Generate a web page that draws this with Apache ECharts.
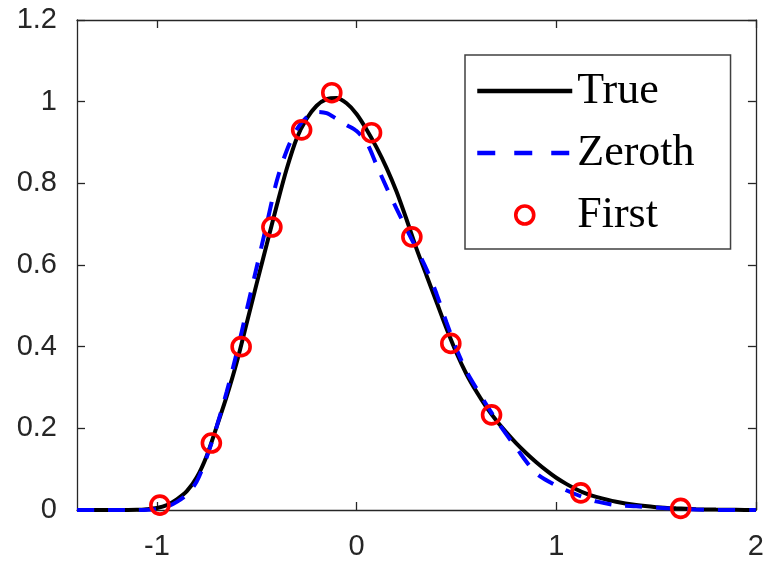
<!DOCTYPE html>
<html>
<head>
<meta charset="utf-8">
<script src="https://cdn.jsdelivr.net/npm/echarts@6/dist/echarts.min.js"></script>
<style>
  html, body { margin: 0; padding: 0; background: #fff; }
  #chart { width: 767px; height: 564px; }
</style>
</head>
<body>
<div id="chart"></div>
<script>
// Exact density ("True")
var trueX = [-1.4, -1.3, -1.2, -1.1, -1.05, -1.0, -0.95, -0.9, -0.85, -0.8, -0.75, -0.7, -0.65, -0.6,
             -0.55, -0.5, -0.45, -0.4, -0.35, -0.3, -0.25, -0.2, -0.15, -0.1, -0.05, 0.0, 0.05,
             0.1, 0.15, 0.2, 0.25, 0.3, 0.35, 0.4, 0.45, 0.5, 0.55, 0.6, 0.65, 0.7, 0.75, 0.8, 0.85, 0.9,
             0.95, 1.0, 1.05, 1.1, 1.15, 1.2, 1.3, 1.4, 1.5, 1.6, 1.7, 1.8, 1.9, 2.0];
var trueY = [0, 0, 0, 0.0005, 0.002, 0.005, 0.012, 0.026, 0.046, 0.08, 0.133, 0.205, 0.279, 0.362,
             0.458, 0.555, 0.65, 0.745, 0.835, 0.91, 0.958, 0.99, 1.006, 1.009, 0.996, 0.97, 0.932,
             0.888, 0.838, 0.78, 0.712, 0.64, 0.575, 0.51, 0.445, 0.385, 0.333, 0.29, 0.252, 0.219, 0.19, 0.163, 0.139, 0.117,
             0.097, 0.079, 0.064, 0.051, 0.04, 0.032, 0.02, 0.012, 0.007, 0.004, 0.002, 0.001, 0.0005, 0];

// Zeroth-order approximation
var zerothX = [-1.4, -1.3, -1.2, -1.1, -1.0, -0.95, -0.9, -0.85, -0.8, -0.75, -0.7, -0.65, -0.6, -0.55, -0.5, -0.45,
               -0.4, -0.35, -0.3, -0.25, -0.2, -0.15, -0.1, -0.05, 0.0, 0.05, 0.1, 0.15, 0.2, 0.25, 0.3, 0.35,
               0.4, 0.45, 0.5, 0.55, 0.6, 0.7, 0.8, 0.9, 1.0, 1.1, 1.2, 1.3, 1.4, 1.5, 1.6, 1.7, 1.8, 2.0];
var zerothY = [0, 0, 0, 0, 0.002, 0.008, 0.02, 0.038, 0.07, 0.13, 0.205, 0.29, 0.385, 0.49, 0.595, 0.7,
               0.805, 0.88, 0.932, 0.962, 0.975, 0.972, 0.958, 0.943, 0.928, 0.9, 0.845, 0.79, 0.738, 0.688, 0.64, 0.59,
               0.53, 0.46, 0.395, 0.34, 0.298, 0.22, 0.152, 0.09, 0.06, 0.038, 0.021, 0.012, 0.009, 0.006, 0.003, 0.001, 0, 0];

// First-order approximation, evaluated at the nodes
var firstX = [-0.985, -0.727, -0.578, -0.424, -0.275, -0.124, 0.075, 0.277, 0.472, 0.676, 1.123, 1.623];
var firstY = [0.012, 0.164, 0.4, 0.693, 0.931, 1.022, 0.924, 0.669, 0.408, 0.233, 0.042, 0.004];

var xTicks = [-1, 0, 1, 2];
var seriesNames = ['True', 'Zeroth', 'First'];

function pairs(xs, ys) {
  return xs.map(function (x, i) { return [x, ys[i]]; });
}

var axisColor = '#262626';
var axisFont = 'Liberation Sans, Arial, Helvetica, sans-serif';
var blueDash = [17, 14];

var chart = echarts.init(document.getElementById('chart'), null, { renderer: 'canvas' });

chart.setOption({
  backgroundColor: '#ffffff',
  animation: false,
  grid: { left: 77, top: 20, right: 6, bottom: 54, containLabel: false },
  xAxis: [
    {
      type: 'value', min: -1.4, max: 2, position: 'bottom',
      splitLine: { show: false },
      axisLine: { show: true, onZero: false, lineStyle: { color: axisColor, width: 1.3 } },
      axisTick: { show: true, inside: true, length: 8, customValues: xTicks, lineStyle: { color: axisColor, width: 1.3 } },
      axisLabel: { show: true, customValues: xTicks, margin: 22, color: axisColor, fontSize: 29, fontFamily: axisFont }
    },
    {
      type: 'value', min: -1.4, max: 2, position: 'top',
      splitLine: { show: false },
      axisLine: { show: true, onZero: false, lineStyle: { color: axisColor, width: 1.3 } },
      axisTick: { show: true, inside: true, length: 8, customValues: xTicks, lineStyle: { color: axisColor, width: 1.3 } },
      axisLabel: { show: false }
    }
  ],
  yAxis: [
    {
      type: 'value', min: 0, max: 1.2, interval: 0.2, position: 'left',
      splitLine: { show: false },
      axisLine: { show: true, onZero: false, lineStyle: { color: axisColor, width: 1.3 } },
      axisTick: { show: true, inside: true, length: 8, lineStyle: { color: axisColor, width: 1.3 } },
      axisLabel: { show: true, margin: 20, color: axisColor, fontSize: 29, fontFamily: axisFont }
    },
    {
      type: 'value', min: 0, max: 1.2, interval: 0.2, position: 'right',
      splitLine: { show: false },
      axisLine: { show: true, onZero: false, lineStyle: { color: axisColor, width: 1.3 } },
      axisTick: { show: true, inside: true, length: 8, lineStyle: { color: axisColor, width: 1.3 } },
      axisLabel: { show: false }
    }
  ],
  legend: {
    orient: 'vertical',
    left: 465, top: 55,
    padding: [12, 36, 10, 10],
    itemWidth: 95, itemHeight: 18, itemGap: 14,
    borderColor: '#404040', borderWidth: 1.5, backgroundColor: '#ffffff',
    textStyle: { fontFamily: 'Liberation Serif, Times New Roman, serif', fontSize: 44, lineHeight: 48, color: '#000' },
    data: [
      { name: seriesNames[0], itemStyle: { opacity: 0 }, lineStyle: { color: '#000000', width: 4.5 } },
      { name: seriesNames[1], itemStyle: { opacity: 0 }, lineStyle: { color: '#0000ff', width: 4.5, type: [18, 19] } },
      { name: seriesNames[2], itemStyle: { color: 'rgba(0,0,0,0)', borderColor: '#ff0000', borderWidth: 3.6, opacity: 1 } }
    ],
    selectedMode: false
  },
  series: [
    {
      name: seriesNames[0], type: 'line', data: pairs(trueX, trueY),
      smooth: 0.3, showSymbol: false, symbol: 'none',
      lineStyle: { color: '#000000', width: 4 }, itemStyle: { color: '#000000' }, z: 2
    },
    {
      name: seriesNames[1], type: 'line', data: pairs(zerothX, zerothY),
      smooth: 0.3, showSymbol: false, symbol: 'none',
      lineStyle: { color: '#0000ff', width: 4, type: blueDash }, itemStyle: { color: '#0000ff' }, z: 3
    },
    {
      name: seriesNames[2], type: 'scatter', data: pairs(firstX, firstY),
      symbol: 'circle', symbolSize: 18,
      itemStyle: { color: 'rgba(0,0,0,0)', borderColor: '#ff0000', borderWidth: 3.6, opacity: 1 },
      emphasis: { disabled: true }, z: 4
    }
  ]
});
</script>
</body>
</html>
